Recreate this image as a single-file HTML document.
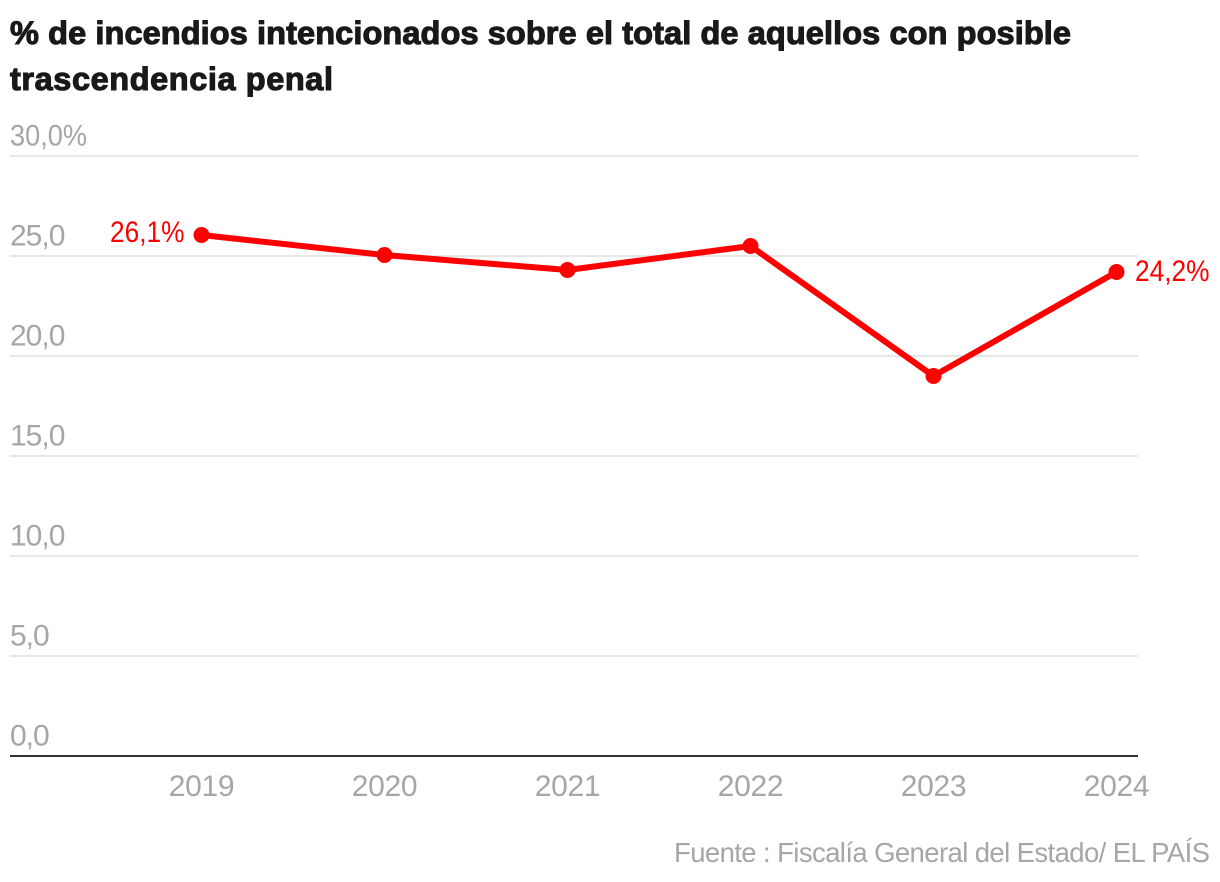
<!DOCTYPE html>
<html lang="es">
<head>
<meta charset="utf-8">
<title>Incendios intencionados</title>
<style>
html,body{margin:0;padding:0;background:#fff;}
svg{display:block;font-family:"Liberation Sans",sans-serif;}
</style>
</head>
<body>
<svg id="chart" width="1220" height="882" viewBox="0 0 1220 882" xmlns="http://www.w3.org/2000/svg">
  <text x="10" y="44" font-size="32.5" font-weight="700" fill="#191919" stroke="#191919" stroke-width="1.1" textLength="1061" lengthAdjust="spacing">% de incendios intencionados sobre el total de aquellos con posible</text>
  <text x="10" y="90" font-size="32.5" font-weight="700" fill="#191919" stroke="#191919" stroke-width="1.1" textLength="323" lengthAdjust="spacing">trascendencia penal</text>
  <g id="grid"></g>
  <g id="xaxis"></g>
  <g id="series"></g>
  <text x="674" y="862" font-size="27.5" fill="#a6a6a6" textLength="536" lengthAdjust="spacing">Fuente : Fiscalía General del Estado/ EL PAÍS</text>
</svg>
<script>
var years = ['2019', '2020', '2021', '2022', '2023', '2024'];
var values = [26.05, 25.05, 24.3, 25.5, 19.0, 24.2];
var yTicks = [0, 5, 10, 15, 20, 25, 30];
var yTickLabels = ['0,0', '5,0', '10,0', '15,0', '20,0', '25,0', '30,0%'];
var valueLabels = ['26,1%', '', '', '', '', '24,2%'];

var NS = 'http://www.w3.org/2000/svg';
function xScale(i) { return 201.5 + (1116.5 - 201.5) * i / (years.length - 1); }
function yScale(v) { return 756 - (v / 30) * 600; }
function mk(parent, tag, attrs, text) {
  var el = document.createElementNS(NS, tag);
  for (var k in attrs) el.setAttribute(k, attrs[k]);
  if (text !== undefined) el.textContent = text;
  parent.appendChild(el);
  return el;
}
var grid = document.getElementById('grid');
yTicks.forEach(function (t, i) {
  var y = yScale(t);
  var line = mk(grid, 'line', {x1: 10, x2: 1138, y1: y, y2: y, stroke: t === 0 ? '#333333' : '#e6e6e6', 'stroke-width': 2});
  
  
  var attrs = {x: 10, y: y - 10.5, 'font-size': 30, fill: '#a6a6a6', 'letter-spacing': -1};
  if (yTickLabels[i].indexOf('%') >= 0) {
    attrs.textLength = 77;
    attrs.lengthAdjust = 'spacingAndGlyphs';
    delete attrs['letter-spacing'];
  }
  var label = mk(grid, 'text', attrs, yTickLabels[i]);
  
  
});
var xaxis = document.getElementById('xaxis');
years.forEach(function (yr, i) {
  var label = mk(xaxis, 'text', {x: xScale(i), y: 796, 'text-anchor': 'middle', 'font-size': 30, fill: '#a6a6a6', 'letter-spacing': -0.3}, yr);
  
  
});
var series = document.getElementById('series');
var pts = values.map(function (v, i) { return xScale(i) + ',' + yScale(v); }).join(' ');
var poly = mk(series, 'polyline', {points: pts, fill: 'none', stroke: '#ff0000', 'stroke-width': 6, 'stroke-linejoin': 'round'});


values.forEach(function (v, i) {
  var c = mk(series, 'circle', {cx: xScale(i), cy: yScale(v), r: 8, fill: '#ff0000'});
  
  
  if (valueLabels[i]) {
    var first = i === 0;
    var t = mk(series, 'text', {
      x: first ? xScale(i) - 91.5 : xScale(i) + 18.5,
      y: yScale(v) + (first ? 7 : 9),
      'font-size': 30,
      fill: '#ff0000',
      textLength: 74.5,
      lengthAdjust: 'spacingAndGlyphs'
    }, valueLabels[i]);
    
    
  }
});
</script>
</body>
</html>
